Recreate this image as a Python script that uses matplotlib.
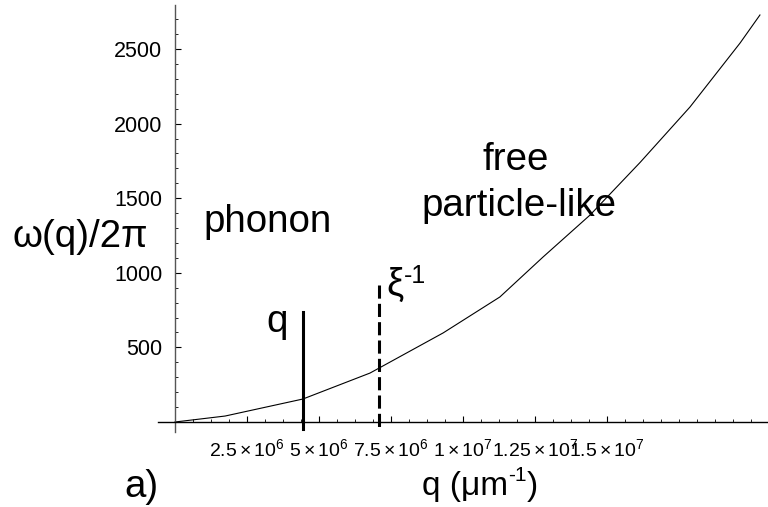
import numpy as np
import matplotlib
matplotlib.use('Agg')
from matplotlib import pyplot as plt
from matplotlib.ticker import FixedLocator, MultipleLocator

plt.rcParams['font.family'] = ['Liberation Sans', 'DejaVu Sans']
plt.rcParams['mathtext.fontset'] = 'custom'
plt.rcParams['mathtext.rm'] = 'Liberation Sans'
plt.rcParams['mathtext.it'] = 'Liberation Sans'

# dispersion curve (q in um^-1, omega/2pi)
q_vals = [0, 1.74e6, 4.44e6, 6.77e6, 9.31e6, 1.128e7, 1.278e7, 1.441e7,
          1.615e7, 1.788e7, 1.962e7, 2.031e7]
w_vals = [0, 40, 154, 328, 597, 838, 1106, 1387, 1740, 2111, 2540, 2728]

q_mark = 4.46e6      # solid marker "q"
xi_inv = 7.08e6      # dashed marker xi^-1
x_ticks = [2.5e6, 5e6, 7.5e6, 1e7, 1.25e7, 1.5e7]
x_labels = [r'$2.5\times10^{6}$', r'$5\times10^{6}$', r'$7.5\times10^{6}$',
            r'$1\times10^{7}$', r'$1.25\times10^{7}$', r'$1.5\times10^{7}$']
y_ticks = [500, 1000, 1500, 2000, 2500]

W, H = 768, 507
fig = plt.figure(figsize=(W/100, H/100), dpi=100)
ax = fig.add_axes([158/W, 75/H, 610/W, 427/H])

ax.plot(q_vals, w_vals, color='black', lw=0.8)
ax.plot([q_mark, q_mark], [-50, 740], color='black', lw=2.2)
ax.plot([xi_inv, xi_inv], [918, -50], color='black', lw=2.2,
        linestyle=(0, (4.3, 1.7)))

ax.set_xlim(-5.9e5, 2.059e7)
ax.set_ylim(-67, 2795)

for s in ['top', 'right']:
    ax.spines[s].set_visible(False)
ax.spines['left'].set_position(('data', 0))
ax.spines['bottom'].set_position(('data', 0))
ax.spines['left'].set_color('#555555')
ax.spines['left'].set_linewidth(1.0)
ax.spines['bottom'].set_linewidth(1.0)

ax.xaxis.set_major_locator(FixedLocator(x_ticks))
ax.set_xticklabels(x_labels)
ax.xaxis.set_minor_locator(MultipleLocator(6.25e5))
ax.yaxis.set_major_locator(FixedLocator(y_ticks))
ax.yaxis.set_minor_locator(MultipleLocator(100))

ax.tick_params(axis='both', which='both', direction='in')
ax.tick_params(axis='both', which='major', length=4, width=0.8)
ax.tick_params(axis='both', which='minor', length=2.5, width=0.6)
ax.tick_params(axis='y', labelsize=15.5, pad=9)
ax.tick_params(axis='x', labelsize=14, pad=12)

fs = 27.7
def px(x, y):
    return x / W, 1 - y / H

fig.text(*px(80, 237), 'ω(q)/2π', fontsize=fs, ha='center', va='center')
fig.text(*px(268, 222), 'phonon', fontsize=fs, ha='center', va='center')
fig.text(*px(516, 160), 'free', fontsize=fs, ha='center', va='center')
fig.text(*px(519, 206), 'particle-like', fontsize=fs, ha='center', va='center')
fig.text(*px(277, 322), 'q', fontsize=fs, ha='center', va='center')
fig.text(*px(141, 487), 'a)', fontsize=fs, ha='center', va='center')

# xi^-1
fig.text(*px(386, 285), 'ξ', fontsize=fs, ha='left', va='center')
fig.text(*px(404, 276), '-1', fontsize=18, ha='left', va='center')

# q (um^-1)
renderer = fig.canvas.get_renderer()
t1 = fig.text(*px(422, 495), 'q (μm', fontsize=24, ha='left', va='baseline')
x1 = t1.get_window_extent(renderer).x1
t2 = fig.text(x1 / W, 1 - 481 / H, '-1', fontsize=15, ha='left', va='baseline')
x2 = t2.get_window_extent(renderer).x1
fig.text(x2 / W, 1 - 495 / H, ')', fontsize=24, ha='left', va='baseline')

fig.savefig('out.png', dpi=100)
